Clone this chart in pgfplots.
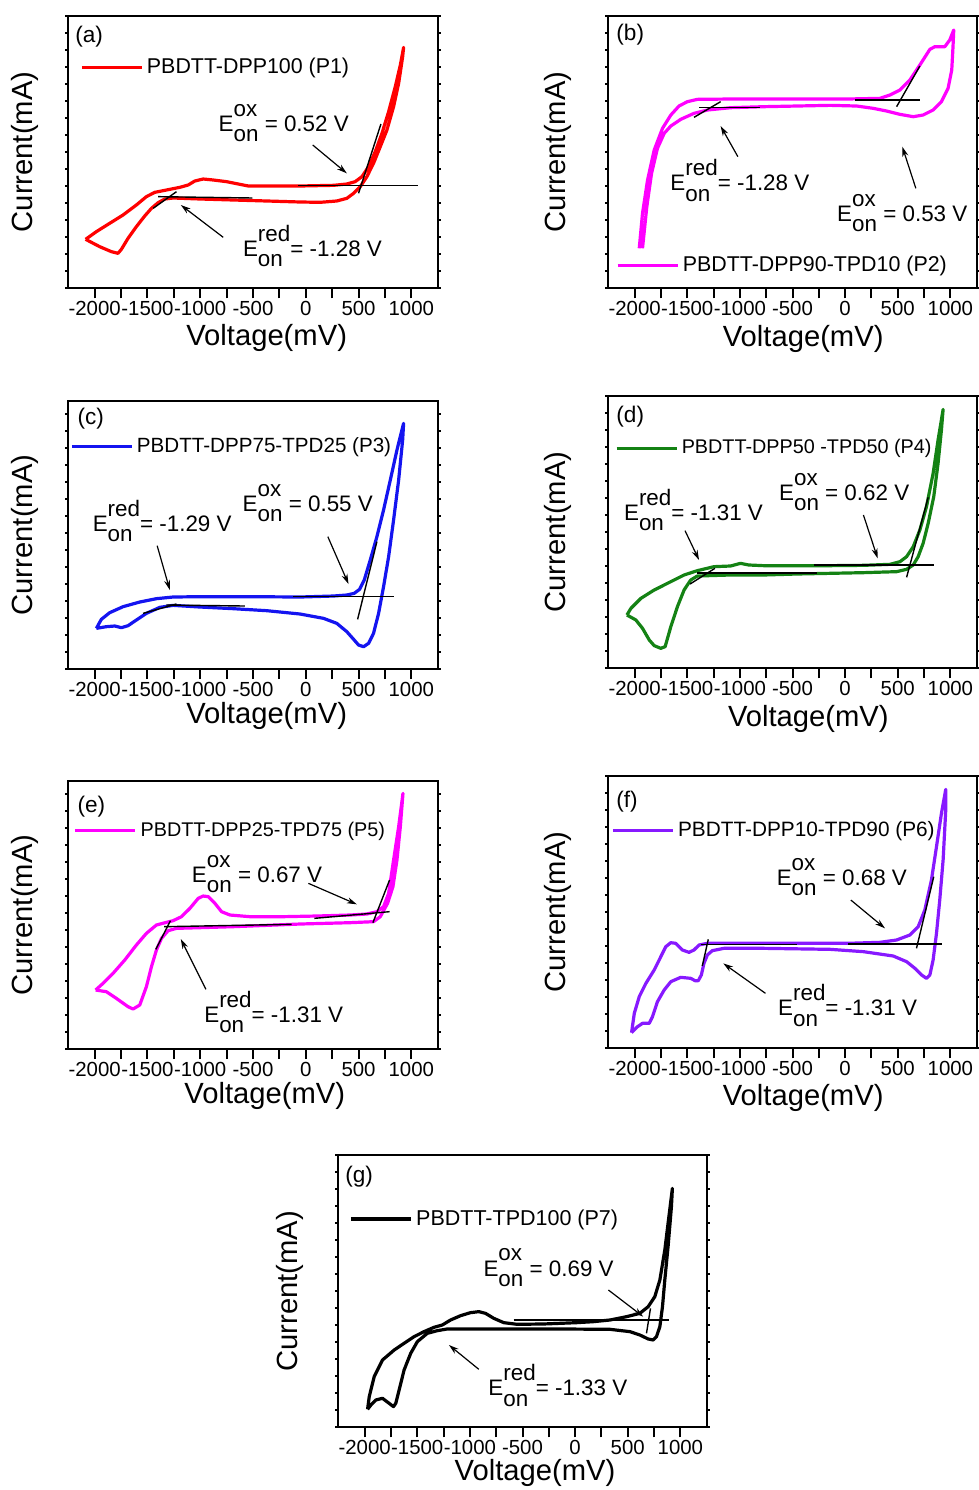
\documentclass[border=0pt]{standalone}
\usepackage{fontspec}
\setmainfont{Liberation Sans}
\usepackage{pgfplots}
\pgfplotsset{compat=1.18}
\usetikzlibrary{arrows.meta}

\definecolor{cvred}{RGB}{255,0,0}
\definecolor{cvmag}{RGB}{255,0,255}
\definecolor{cvblue}{RGB}{20,20,240}
\definecolor{cvgreen}{RGB}{20,130,20}
\definecolor{cvviolet}{RGB}{135,25,255}

% onset potential label: E with stacked super/subscript
\newlength\supw
\newlength\subw
\newcommand{\Eon}[2]{%
  \settowidth{\supw}{#1}\settowidth{\subw}{on}%
  \ifdim\supw>\subw\setlength{\subw}{\supw}\fi
  E\makebox[0pt][l]{\raisebox{0.67em}{#1}}\makebox[\subw][l]{\raisebox{-0.45em}{on}}#2}

\tikzset{
  ann/.style={anchor=base west, inner sep=0pt, font=\fontsize{11.2}{13}\selectfont},
  plabel/.style={anchor=west, inner sep=0pt, font=\fontsize{11.3}{13}\selectfont},
}

\pgfplotsset{
  cv/.style={
    scale only axis, xmin=-2250, xmax=1250, ymin=0, clip=false,
    xtick={-2000,-1500,-1000,-500,0,500,1000},
    xticklabels={-2000,-1500,-1000,-500,0,500,1000},
    minor x tick num=1,
    ytick=\empty,
    xtick pos=bottom, tick align=outside,
    axis line style={line width=1pt},
    every tick/.append style={black, line width=1pt},
    major tick length=5pt, minor tick length=5pt,
    tick label style={font=\fontsize{10.2}{12}\selectfont},
    xticklabel style={anchor=base, yshift=-8.5pt},
    label style={font=\fontsize{14.6}{17}\selectfont},
    xlabel={Voltage(mV)}, ylabel={Current(mA)},
    legend style={draw=none, fill=none, inner sep=0pt, anchor=west,
      nodes={inner sep=0pt},
      /tikz/every odd column/.append style={column sep=1.8pt}},
    legend image code/.code={\draw[#1] (0pt,0pt) -- (30pt,0pt);},
    legend cell align=left,
  },
  lfont/.style={legend style={font=\fontsize{#1}{12}\selectfont}},
  % short current ticks on both vertical spines
  cvy/.style={
    scale only axis, xmin=-2250, xmax=1250, ymin=0,
    xtick=\empty, ytick={0,51,...,816}, yticklabels={},
    ytick pos=both, tick align=outside,
    axis line style={draw=none},
    every tick/.append style={black, line width=1pt},
    major tick length=1.5pt,
  },
  cvline/.style={line width=1.6pt, line join=round},
  tang/.style={black, line width=0.7pt, forget plot},
  arr/.style={black, line width=0.6pt, -{Stealth[length=5pt,width=3pt]}, forget plot},
}

\newcommand{\yticks}[4]{%
  \begin{axis}[cvy, at={#1}, anchor=north west, width=#2, height=#3, ymax=#4]
  \end{axis}}

\begin{document}
\begin{tikzpicture}
\useasboundingbox (0,0) rectangle (489.5pt,-745pt);

% ---------------- (a) P1 ----------------
\begin{axis}[cv, lfont=10.7, at={(34.15pt,-7.85pt)}, anchor=north west,
  width=184.7pt, height=136.3pt, ymax=818,
  xlabel style={at={(axis description cs:0.537,0)}, anchor=base, yshift=-28.35pt},
  ylabel style={at={(axis description cs:-0.1164,0.5)}, anchor=center},
  legend style={at={(axis description cs:0.031,0.81)}}]
\addplot[cvline, cvred] coordinates {
(-2086,147) (-1984,170) (-1858,195) (-1731,220) (-1605,250) (-1510,275) (-1431,288)
(-1320,295) (-1193,303) (-1114,310) (-1051,322) (-972,328) (-877,325) (-750,320)
(-624,312) (-544,307) (-370,307) (-54,307) (263,309) (389,313) (468,320) (532,335)
(595,365) (658,410) (722,465) (785,530) (848,605) (896,670) (927,723) (918,695)
(880,615) (832,545) (769,475) (706,425) (642,375) (579,335) (516,305) (453,285)
(389,270) (294,262) (136,258) (-54,259) (-370,262) (-687,265) (-1003,268) (-1256,271)
(-1336,268) (-1399,257) (-1462,240) (-1526,217) (-1605,185) (-1684,150) (-1747,117)
(-1779,105) (-1842,110) (-1953,125) (-2086,147)};
\addlegendentry{PBDTT-DPP100 (P1)}
\addplot[tang] coordinates {(-70,308) (1060,308)};
\addplot[tang] coordinates {(500,285) (712,493)};
\addplot[tang] coordinates {(-1399,275) (-506,271)};
\addplot[tang] coordinates {(-1446,240) (-1225,290)};
\addplot[arr] coordinates {(66,430) (389,345)};
\addplot[arr] coordinates {(-782,153) (-1184,250)};
\node[plabel] at (rel axis cs:0.018,0.923) {(a)};
\node[ann] at (axis cs:-829,470) {\Eon{ox}{ = 0.52 V}};
\node[ann] at (axis cs:-598,95) {\Eon{red}{= -1.28 V}};
\end{axis}
\yticks{(34.15pt,-7.85pt)}{184.7pt}{136.3pt}{818}

% ---------------- (b) P2 ----------------
\begin{axis}[cv, lfont=10.7, at={(304.15pt,-7.85pt)}, anchor=north west,
  width=184.2pt, height=136.3pt, ymax=818,
  xlabel style={at={(axis description cs:0.529,0)}, anchor=base, yshift=-29.2pt},
  ylabel style={at={(axis description cs:-0.1357,0.5)}, anchor=center},
  legend style={at={(axis description cs:0.02,0.083)}}]
\addplot[cvline, cvmag] coordinates {
(-1956,120) (-1925,225) (-1877,325) (-1814,415) (-1735,480) (-1656,520) (-1578,547)
(-1499,560) (-1404,567) (-1088,568) (-457,568) (16,568) (331,570) (426,580) (521,595)
(615,625) (710,670) (805,717) (852,725) (947,725) (994,745) (1032,775) (1025,725)
(1013,655) (978,600) (915,560) (836,535) (741,520) (647,515) (521,522) (394,532)
(268,540) (110,547) (-142,549) (-457,547) (-773,545) (-1088,542) (-1309,535)
(-1436,525) (-1562,507) (-1656,487) (-1719,465) (-1783,420) (-1839,345) (-1884,245)
(-1925,120)};
\addlegendentry{PBDTT-DPP90-TPD10 (P2)}
\addplot[tang] coordinates {(95,565) (710,565)};
\addplot[tang] coordinates {(489,545) (710,667)};
\addplot[tang] coordinates {(-1388,543) (-811,543)};
\addplot[tang] coordinates {(-1436,513) (-1183,560)};
\addplot[arr] coordinates {(-1019,395) (-1183,487)};
\addplot[arr] coordinates {(672,300) (543,425)};
\node[plabel] at (rel axis cs:0.021,0.929) {(b)};
\node[ann] at (axis cs:-1663,292) {\Eon{red}{= -1.28 V}};
\node[ann] at (axis cs:-79,200) {\Eon{ox}{ = 0.53 V}};
\end{axis}
\yticks{(304.15pt,-7.85pt)}{184.2pt}{136.3pt}{818}

% ---------------- (c) P3 ----------------
\begin{axis}[cv, lfont=10.3, at={(34.15pt,-200.5pt)}, anchor=north west,
  width=184.7pt, height=134pt, ymax=804,
  xlabel style={at={(axis description cs:0.537,0)}, anchor=base, yshift=-27pt},
  ylabel style={at={(axis description cs:-0.1164,0.5)}, anchor=center},
  legend style={at={(axis description cs:0.004,0.83)}}]
\addplot[cvline, cvblue] coordinates {
(-1984,122) (-1937,149) (-1858,169) (-1731,187) (-1573,201) (-1415,211) (-1257,216)
(-1003,217) (-529,217) (-54,216) (263,219) (389,222) (459,227) (510,239) (554,267)
(611,327) (674,397) (737,477) (801,567) (864,657) (927,737) (918,687) (880,567)
(832,447) (785,337) (737,247) (690,167) (642,107) (595,77) (548,67) (500,72) (459,87)
(389,112) (294,137) (168,152) (-54,165) (-370,175) (-687,181) (-1003,186) (-1257,191)
(-1383,185) (-1510,167) (-1605,147) (-1684,130) (-1747,124) (-1810,129) (-1890,127)
(-1984,122)};
\addlegendentry{PBDTT-DPP75-TPD25 (P3)}
\addplot[tang] coordinates {(-117,218) (832,218)};
\addplot[tang] coordinates {(491,149) (674,382)};
\addplot[tang] coordinates {(-1541,167) (-1225,195)};
\addplot[tang] coordinates {(-1320,192) (-576,189)};
\addplot[arr] coordinates {(-1408,370) (-1288,237)};
\addplot[arr] coordinates {(209,397) (405,255)};
\node[plabel] at (rel axis cs:0.024,0.935) {(c)};
\node[ann] at (axis cs:-2022,412) {\Eon{red}{= -1.29 V}};
\node[ann] at (axis cs:-601,474) {\Eon{ox}{ = 0.55 V}};
\end{axis}
\yticks{(34.15pt,-200.5pt)}{184.7pt}{134pt}{804}

% ---------------- (d) P4 ----------------
\begin{axis}[cv, lfont=9.9, at={(304.15pt,-197.85pt)}, anchor=north west,
  width=184.2pt, height=136.3pt, ymax=818,
  xlabel style={at={(axis description cs:0.543,0)}, anchor=base, yshift=-29.2pt},
  ylabel style={at={(axis description cs:-0.1357,0.5)}, anchor=center},
  legend style={at={(axis description cs:0.017,0.807)}}]
\addplot[cvline, cvgreen] coordinates {
(-2073,160) (-2035,180) (-1940,210) (-1814,235) (-1656,260) (-1530,280) (-1404,293)
(-1246,305) (-1088,307) (-994,315) (-915,310) (-773,308) (-457,308) (-142,308)
(174,309) (426,312) (521,320) (584,335) (647,365) (710,415) (773,485) (836,585)
(883,685) (931,777) (915,715) (883,615) (842,515) (789,435) (741,375) (694,335)
(647,310) (584,297) (489,290) (174,287) (-142,285) (-457,283) (-773,280) (-1088,280)
(-1404,277) (-1467,265) (-1530,235) (-1593,185) (-1656,125) (-1710,65) (-1751,60)
(-1814,68) (-1861,85) (-1925,120) (-1988,145) (-2073,160)};
\addlegendentry{PBDTT-DPP50 -TPD50 (P4)}
\addplot[tang] coordinates {(-300,310) (842,310)};
\addplot[tang] coordinates {(584,273) (789,513)};
\addplot[tang] coordinates {(-1404,286) (-268,286)};
\addplot[tang] coordinates {(-1473,253) (-1237,300)};
\addplot[arr] coordinates {(-1521,413) (-1388,325)};
\addplot[arr] coordinates {(174,460) (309,330)};
\node[plabel] at (rel axis cs:0.021,0.923) {(d)};
\node[ann] at (axis cs:-2104,443) {\Eon{red}{= -1.31 V}};
\node[ann] at (axis cs:-631,503) {\Eon{ox}{ = 0.62 V}};
\end{axis}
\yticks{(304.15pt,-197.85pt)}{184.2pt}{136.3pt}{818}

% ---------------- (e) P5 ----------------
\begin{axis}[cv, lfont=9.9, at={(34.15pt,-390.5pt)}, anchor=north west,
  width=184.7pt, height=134pt, ymax=804,
  xlabel style={at={(axis description cs:0.532,0)}, anchor=base, yshift=-27.2pt},
  ylabel style={at={(axis description cs:-0.1164,0.5)}, anchor=center},
  legend style={at={(axis description cs:0.014,0.815)}}]
\addplot[cvline, cvmag] coordinates {
(-1991,177) (-1921,197) (-1826,227) (-1715,267) (-1605,312) (-1510,347) (-1415,372)
(-1320,380) (-1257,385) (-1177,397) (-1098,422) (-1019,452) (-972,459) (-924,457)
(-861,437) (-798,412) (-718,402) (-529,397) (-212,397) (104,399) (421,402) (579,405)
(674,412) (737,427) (785,467) (832,567) (880,667) (921,767) (896,667) (864,567)
(826,487) (775,437) (706,397) (642,382) (421,379) (-54,375) (-370,371) (-687,367)
(-1003,364) (-1225,362) (-1304,355) (-1367,332) (-1415,297) (-1462,247) (-1510,187)
(-1573,132) (-1636,120) (-1684,127) (-1795,152) (-1890,172) (-1991,177)};
\addlegendentry{PBDTT-DPP25-TPD75 (P5)}
\addplot[tang] coordinates {(82,392) (794,412)};
\addplot[tang] coordinates {(636,379) (794,507)};
\addplot[tang] coordinates {(-1342,367) (-133,374)};
\addplot[tang] coordinates {(-1421,299) (-1282,385)};
\addplot[arr] coordinates {(25,497) (484,434)};
\addplot[arr] coordinates {(-946,179) (-1184,330)};
\node[plabel] at (rel axis cs:0.024,0.904) {(e)};
\node[ann] at (axis cs:-1082,499) {\Eon{ox}{ = 0.67 V}};
\node[ann] at (axis cs:-965,79) {\Eon{red}{= -1.31 V}};
\end{axis}
\yticks{(34.15pt,-390.5pt)}{184.7pt}{134pt}{804}

% ---------------- (f) P6 ----------------
\begin{axis}[cv, lfont=10.4, at={(304.15pt,-387.85pt)}, anchor=north west,
  width=184.2pt, height=136.3pt, ymax=818,
  xlabel style={at={(axis description cs:0.529,0)}, anchor=base, yshift=-28.35pt},
  ylabel style={at={(axis description cs:-0.1357,0.5)}, anchor=center},
  legend style={at={(axis description cs:0.007,0.80)}}]
\addplot[cvline, cvviolet] coordinates {
(-2029,47) (-2003,105) (-1956,155) (-1893,195) (-1814,235) (-1751,275) (-1704,305)
(-1656,317) (-1609,315) (-1546,295) (-1483,288) (-1436,295) (-1388,310) (-1309,315)
(-1088,315) (-457,315) (16,315) (331,318) (489,325) (615,340) (694,365) (757,415)
(820,505) (868,605) (915,705) (956,777) (956,715) (931,565) (899,445) (868,345)
(836,265) (805,220) (773,210) (726,220) (663,240) (584,260) (457,277) (174,290)
(-142,297) (-773,300) (-1152,300) (-1262,293) (-1309,280) (-1341,255) (-1366,220)
(-1395,203) (-1426,203) (-1467,210) (-1562,213) (-1656,200) (-1719,175) (-1783,140)
(-1830,95) (-1861,75) (-1925,75) (-1972,65) (-2029,47)};
\addlegendentry{PBDTT-DPP10-TPD90 (P6)}
\addplot[tang] coordinates {(32,313) (921,313)};
\addplot[tang] coordinates {(678,300) (842,515)};
\addplot[tang] coordinates {(-1372,312) (-457,312)};
\addplot[tang] coordinates {(-1357,247) (-1300,327)};
\addplot[arr] coordinates {(54,445) (379,360)};
\addplot[arr] coordinates {(-757,165) (-1158,255)};
\node[plabel] at (rel axis cs:0.021,0.905) {(f)};
\node[ann] at (axis cs:-653,490) {\Eon{ox}{ = 0.68 V}};
\node[ann] at (axis cs:-640,97) {\Eon{red}{= -1.31 V}};
\end{axis}
\yticks{(304.15pt,-387.85pt)}{184.2pt}{136.3pt}{818}

% ---------------- (g) P7 ----------------
\begin{axis}[cv, lfont=10.75, at={(169.15pt,-577.5pt)}, anchor=north west,
  width=184.2pt, height=136.15pt, ymax=817,
  xlabel style={at={(axis description cs:0.534,0)}, anchor=base, yshift=-26.4pt},
  ylabel style={at={(axis description cs:-0.1303,0.5)}, anchor=center},
  legend style={at={(axis description cs:0.029,0.765)}}]
\addplot[cvline, black] coordinates {
(-1972,54) (-1956,92) (-1909,152) (-1830,202) (-1719,232) (-1625,252) (-1530,272)
(-1436,287) (-1341,300) (-1262,307) (-1183,322) (-1088,335) (-994,344) (-915,347)
(-852,342) (-773,327) (-678,314) (-552,309) (-300,310) (16,314) (174,317) (331,322)
(489,332) (615,342) (694,362) (757,392) (805,442) (852,532) (883,612) (924,717)
(915,662) (883,542) (852,442) (830,362) (805,302) (773,272) (741,262) (694,265)
(615,277) (521,287) (331,294) (-142,295) (-773,295) (-1215,295) (-1309,290)
(-1404,282) (-1499,257) (-1562,222) (-1625,172) (-1672,112) (-1704,72) (-1726,62)
(-1767,72) (-1830,87) (-1893,82) (-1940,67) (-1972,54)};
\addlegendentry{PBDTT-TPD100 (P7)}
\addplot[tang] coordinates {(-584,322) (893,322)};
\addplot[tang] coordinates {(678,282) (716,357)};
\addplot[arr] coordinates {(316,412) (647,332)};
\addplot[arr] coordinates {(-915,174) (-1199,247)};
\node[plabel] at (rel axis cs:0.018,0.92) {(g)};
\node[ann] at (axis cs:-874,454) {\Eon{ox}{ = 0.69 V}};
\node[ann] at (axis cs:-827,94) {\Eon{red}{= -1.33 V}};
\end{axis}
\yticks{(169.15pt,-577.5pt)}{184.2pt}{136.15pt}{817}
\end{tikzpicture}
\end{document}
